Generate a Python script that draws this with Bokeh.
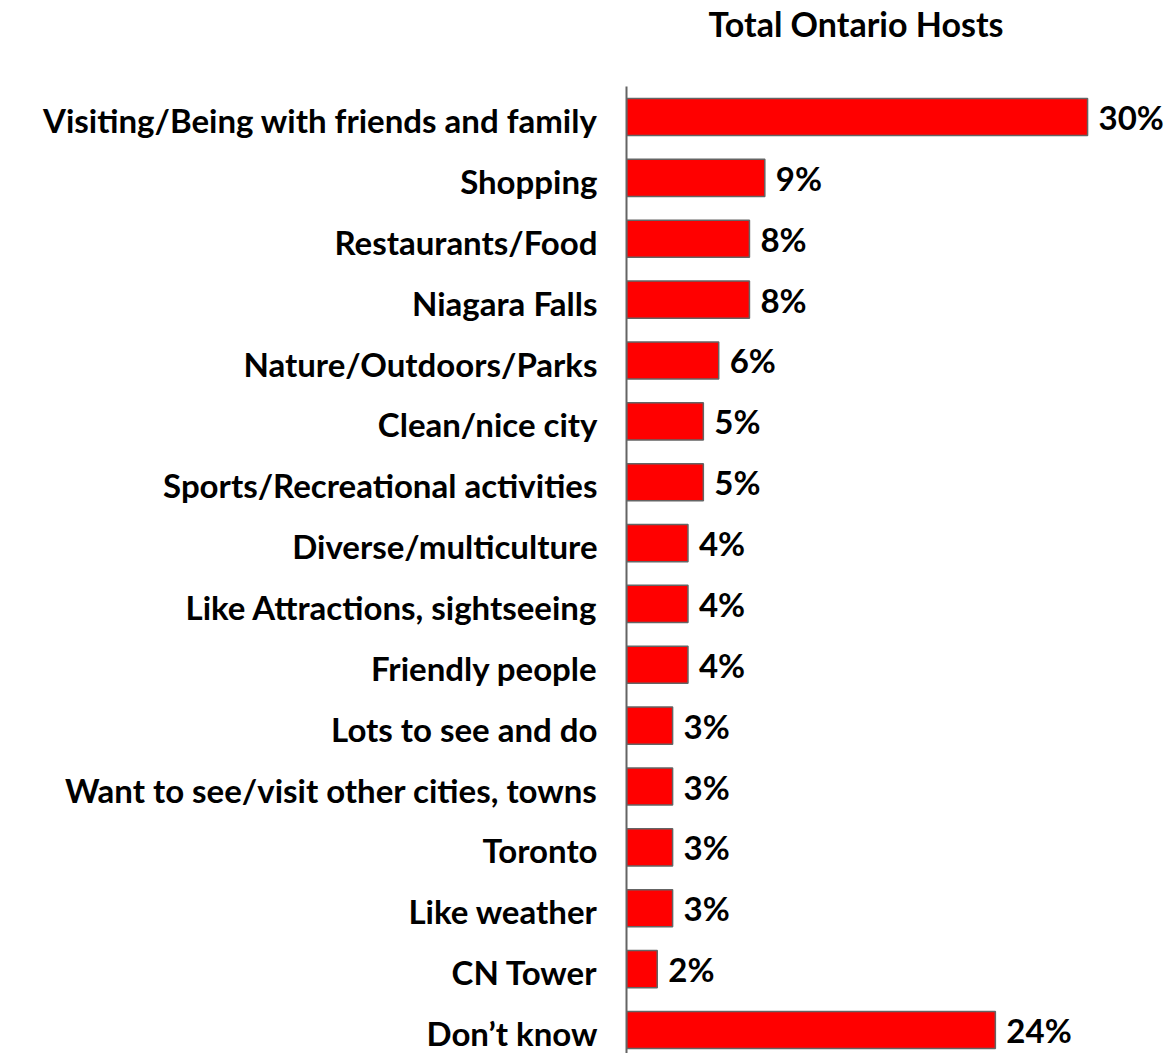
from bokeh.plotting import figure
from bokeh.models import Range1d, FixedTicker, ColumnDataSource, Title
from bokeh.core.properties import value
from bokeh.embed import file_html
from bokeh.resources import INLINE

categories = [
    "Visiting/Being with friends and family",
    "Shopping",
    "Restaurants/Food",
    "Niagara Falls",
    "Nature/Outdoors/Parks",
    "Clean/nice city",
    "Sports/Recreational activities",
    "Diverse/multiculture",
    "Like Attractions, sightseeing",
    "Friendly people",
    "Lots to see and do",
    "Want to see/visit other cities, towns",
    "Toronto",
    "Like weather",
    "CN Tower",
    "Don\u2019t know",
]
values = [30, 9, 8, 8, 6, 5, 5, 4, 4, 4, 3, 3, 3, 3, 2, 24]
title_text = "Total Ontario Hosts"

FONT = "Lato"
FS = "33px"

idx = list(range(len(categories)))
labels = [f"{v}%" for v in values]
src = ColumnDataSource(dict(y=idx, v=values, lab=labels))

p = figure(width=1165, height=1053, output_backend="svg", toolbar_location=None,
           x_range=Range1d(0, 35.07), y_range=Range1d(15.386, -0.501),
           min_border_left=626, min_border_top=86, min_border_bottom=0, min_border_right=0)

p.hbar(y="y", right="v", left=0, height=0.61, source=src,
       fill_color="#FF0000", line_color="#646464", line_width=1.5)

p.text(x="v", y="y", text="lab", source=src, x_offset=11, y_offset=0,
       text_font=value(FONT), text_font_style="bold", text_font_size=FS,
       text_baseline="middle", text_align="left", text_color="black")

p.xaxis.visible = False
p.xgrid.visible = False
p.ygrid.visible = False
p.outline_line_color = None

tick_pos = [i + 0.05 for i in idx]
ya = p.yaxis[0]
ya.ticker = FixedTicker(ticks=tick_pos)
ya.major_label_overrides = {t: c for t, c in zip(tick_pos, categories)}
ya.major_tick_line_color = None
ya.minor_tick_line_color = None
ya.axis_line_color = "#646464"
ya.axis_line_width = 2
ya.major_label_text_font = FONT
ya.major_label_text_font_style = "bold"
ya.major_label_text_font_size = FS
ya.major_label_text_color = "black"
ya.major_label_standoff = 23

# blank spacer between frame and title
spacer = Title(text=" ", text_font=FONT, text_font_size="32px", standoff=0,
               text_color="white")
p.add_layout(spacer, "above")

t = Title(text=title_text, align="left", offset=82, text_font=FONT,
          text_font_style="bold", text_font_size="34px", text_color="black",
          vertical_align="top", standoff=0)
p.add_layout(t, "above")

open("out.html", "w").write(file_html(p, INLINE))
